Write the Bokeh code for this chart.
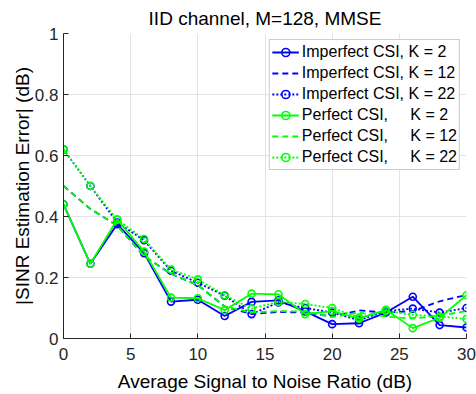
from bokeh.plotting import figure
from bokeh.models import Range1d, FixedTicker, Legend, LegendItem
from bokeh.embed import file_html
from bokeh.resources import INLINE

# ---- data ----
snr_db = [0, 2, 4, 6, 8, 10, 12, 14, 16, 18, 20, 22, 24, 26, 28, 30]

imperfect_k2 = [0.44, 0.245, 0.375, 0.28, 0.121, 0.127, 0.074, 0.12, 0.125, 0.089, 0.047, 0.05, 0.085, 0.137, 0.044, 0.036]
imperfect_k12 = [0.50, 0.425, 0.37, 0.27, 0.212, 0.175, 0.105, 0.08, 0.087, 0.085, 0.072, 0.092, 0.085, 0.09, 0.122, 0.143]
imperfect_k22 = [0.62, 0.50, 0.38, 0.322, 0.222, 0.183, 0.14, 0.08, 0.118, 0.10, 0.085, 0.06, 0.09, 0.098, 0.085, 0.10]
perfect_k2 = [0.44, 0.245, 0.39, 0.285, 0.134, 0.132, 0.093, 0.147, 0.145, 0.08, 0.09, 0.065, 0.094, 0.034, 0.068, 0.142]
perfect_k12 = [0.50, 0.425, 0.37, 0.27, 0.212, 0.175, 0.105, 0.085, 0.09, 0.088, 0.07, 0.085, 0.072, 0.065, 0.075, 0.09]
perfect_k22 = [0.62, 0.50, 0.39, 0.326, 0.226, 0.194, 0.142, 0.098, 0.12, 0.113, 0.10, 0.069, 0.09, 0.078, 0.072, 0.064]

labels = [
    "Imperfect CSI, K = 2",
    "Imperfect CSI, K = 12",
    "Imperfect CSI, K = 22",
    "Perfect CSI,\u00a0\u00a0\u00a0\u00a0\u00a0K = 2",
    "Perfect CSI,\u00a0\u00a0\u00a0\u00a0\u00a0K = 12",
    "Perfect CSI,\u00a0\u00a0\u00a0\u00a0\u00a0K = 22",
]

x_ticks = [0, 5, 10, 15, 20, 25, 30]
y_ticks = [0, 0.2, 0.4, 0.6, 0.8, 1.0]
y_tick_labels = ["0", "0.2", "0.4", "0.6", "0.8", "1"]

title_text = "IID channel, M=128, MMSE"
x_label = "Average Signal to Noise Ratio (dB)"
y_label = "|SINR Estimation Error| (dB)"

BLUE = "#0000ff"
GREEN = "#00ff00"
FONT = "Liberation Sans"
AX = "#262626"

p = figure(width=476, height=394, x_range=Range1d(0, 30), y_range=Range1d(0, 1),
           output_backend="svg", toolbar_location=None, title=title_text,
           min_border_left=63, min_border_right=10, min_border_top=33, min_border_bottom=54)
p.background_fill_color = "white"
p.border_fill_color = "white"
p.outline_line_color = None

p.title.text_font = FONT
p.title.text_font_size = "19px"
p.title.text_font_style = "normal"
p.title.text_color = "#000000"
p.title.align = "center"

p.xaxis.ticker = FixedTicker(ticks=x_ticks)
p.yaxis.ticker = FixedTicker(ticks=y_ticks)
p.yaxis.major_label_overrides = {t: l for t, l in zip(y_ticks, y_tick_labels)}
p.xaxis.axis_label = x_label
p.yaxis.axis_label = y_label
for ax in (p.xaxis, p.yaxis):
    ax.major_tick_in = 5
    ax.major_tick_out = 0
    ax.minor_tick_line_color = None
    ax.axis_line_color = AX
    ax.major_tick_line_color = AX
    ax.major_label_text_font = FONT
    ax.major_label_text_font_size = "17px"
    ax.major_label_text_color = AX
    ax.axis_label_text_font = FONT
    ax.axis_label_text_font_size = "19px"
    ax.axis_label_text_font_style = "normal"
    ax.axis_label_text_color = "#000000"
p.xaxis.major_label_standoff = 9
p.xaxis.axis_label_standoff = 8
p.yaxis.major_label_standoff = 5
p.yaxis.axis_label_standoff = -1

p.grid.grid_line_color = "#e3e3e3"
p.grid.grid_line_width = 1

series = [
    (imperfect_k2, BLUE, "solid", True),
    (imperfect_k12, BLUE, "6 4", False),
    (imperfect_k22, BLUE, "2 2", True),
    (perfect_k2, GREEN, "solid", True),
    (perfect_k12, GREEN, "6 4", False),
    (perfect_k22, GREEN, "2 2", True),
]

items = []
for (ys, col, dash, mark), lab in zip(series, labels):
    rs = [p.line(snr_db, ys, line_color=col, line_width=1.8, line_dash=dash)]
    if mark:
        rs.append(p.scatter(snr_db, ys, marker="circle", size=7, fill_color=None,
                            line_color=col, line_width=1.6))
    items.append(LegendItem(label=lab, renderers=rs))

legend = Legend(items=items, location="top_right")
legend.margin = 6
legend.padding = 2
legend.spacing = 1
legend.glyph_width = 27
legend.glyph_height = 20
legend.label_height = 20
legend.label_standoff = 3
legend.label_text_font = FONT
legend.label_text_font_size = "16px"
legend.label_text_color = "#000000"
legend.border_line_color = "#999999"
legend.border_line_width = 1
legend.background_fill_color = "white"
legend.background_fill_alpha = 1
p.add_layout(legend)

open("out.html", "w").write(file_html(p, INLINE))
